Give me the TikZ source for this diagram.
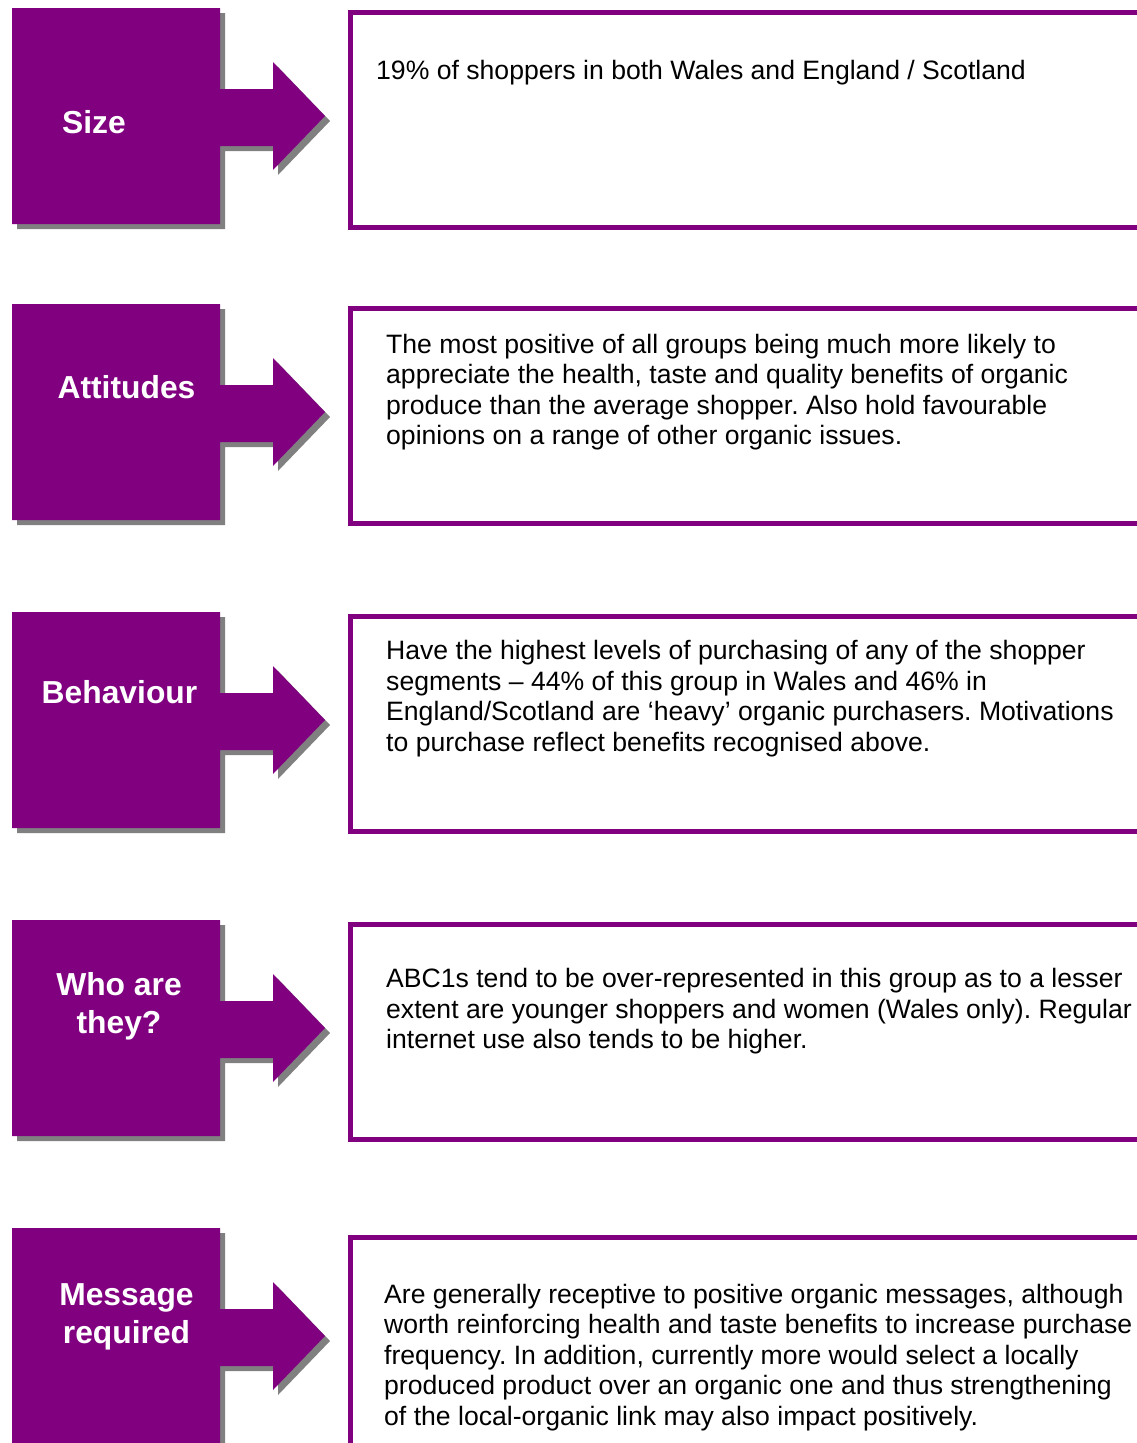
\documentclass[tikz,border=0pt]{standalone}
\usepackage{fontspec}
\setmainfont{Liberation Sans}
\usetikzlibrary{positioning}
\definecolor{segpurple}{RGB}{128,0,128}
\definecolor{seggray}{RGB}{128,128,128}
% square with arrow, #1 = top edge of the square
\newcommand{\segblock}[1]{%
	\fill[seg shadow] (12,#1) -- ++(208,0) -- ++(0,81) -- ++(53,0) -- ++(0,-27) -- ++(52,54) -- ++(-52,54) -- ++(0,-24) -- ++(-53,0) -- ++(0,78) -- ++(-208,0) -- cycle;
	\fill[seg face] (12,#1) -- ++(208,0) -- ++(0,81) -- ++(53,0) -- ++(0,-27) -- ++(52,54) -- ++(-52,54) -- ++(0,-24) -- ++(-53,0) -- ++(0,78) -- ++(-208,0) -- cycle;}
\newcommand{\bodylines}[1]{\parbox[t]{760pt}{\raggedright\frenchspacing #1}}

\begin{document}
\begin{tikzpicture}[x=1pt, y=-1pt,
				seg shadow/.style={fill=seggray, shift={(5,5)}},
				seg face/.style={fill=segpurple},
				seglabel/.style={text=white, inner sep=0, align=center, font=\fontsize{31.8}{38}\selectfont\bfseries},
				infobox/.style={draw=segpurple, line width=5pt, rectangle, inner sep=0, anchor=north west, minimum width=820pt, minimum height=215pt},
				bodytext/.style={inner sep=0, anchor=base west, font=\fontsize{26.6}{30.5}\selectfont}]
				\fill[white] (0,0) rectangle (1137,1443);
				\useasboundingbox (0,0) rectangle (1137,1443);
				
				\segblock{8}
				\segblock{304}
				\segblock{612}
				\segblock{920}
				\segblock{1228}
				
				\node[seglabel, anchor=base](size) at (94,133) {Size};
				\node[seglabel, anchor=base](attitudes) at (126.5,398) {Attitudes};
				\node[seglabel, anchor=base](behaviour) at (119.5,703) {Behaviour};
				\node[seglabel](who) at (119,1006) {Who are\\they?};
				\node[seglabel](message) at (126.5,1317) {Message\\required};
				
				\node[infobox](sizebox) at (348,10) {};
				\node[infobox](attitudesbox) at (348,306) {};
				\node[infobox](behaviourbox) at (348,614) {};
				\node[infobox](whobox) at (348,922) {};
				\node[infobox](messagebox) at (348,1235) {};
				
				\node[bodytext](sizetext) at (376,79) {\bodylines{19\% of shoppers in both Wales and England / Scotland}};
				\node[bodytext](attitudestext) at (386,353) {\bodylines{The most positive of all groups being much more likely to\\appreciate the health, taste and quality benefits of organic\\produce than the average shopper. Also hold favourable\\opinions on a range of other organic issues.}};
				\node[bodytext](behaviourtext) at (386,659.5) {\bodylines{Have the highest levels of purchasing of any of the shopper\\segments – 44\% of this group in Wales and 46\% in\\England/Scotland are ‘heavy’ organic purchasers. Motivations\\to purchase reflect benefits recognised above.}};
				\node[bodytext](whotext) at (386,987.5) {\bodylines{ABC1s tend to be over-represented in this group as to a lesser\\extent are younger shoppers and women (Wales only). Regular\\internet use also tends to be higher.}};
				\node[bodytext](messagetext) at (384,1303) {\bodylines{Are generally receptive to positive organic messages, although\\worth reinforcing health and taste benefits to increase purchase\\frequency. In addition, currently more would select a locally\\produced product over an organic one and thus strengthening\\of the local-organic link may also impact positively.}};
			\end{tikzpicture}
\end{document}
